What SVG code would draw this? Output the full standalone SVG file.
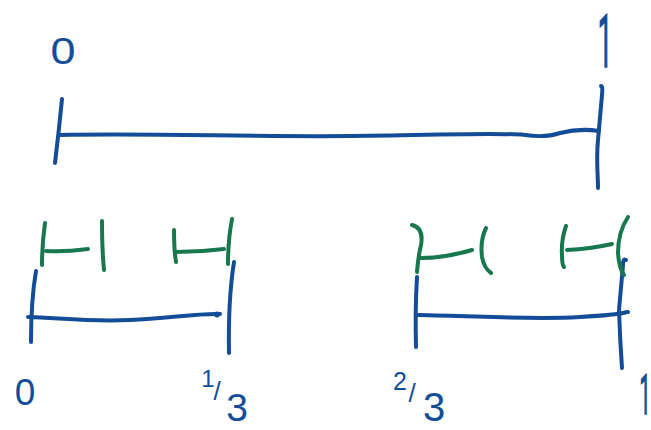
<svg xmlns="http://www.w3.org/2000/svg" width="651" height="430" viewBox="0 0 651 430">
<style>
.b{fill:none;stroke:#134d98;stroke-width:4;stroke-linecap:round;stroke-linejoin:round}
.g{fill:none;stroke:#17774d;stroke-width:4;stroke-linecap:round;stroke-linejoin:round}
.t{font-family:"Liberation Sans",Arial,sans-serif;fill:#134d98;text-anchor:middle}
.s{font-family:Roboto,"Liberation Sans",sans-serif;stroke:#134d98;stroke-width:1.5}
</style>
<rect width="651" height="430" fill="#fff"/>
<g id="interval-0-1">
<path class="b" d="M62,99 Q59,130 55,163"/>
<path class="b" d="M60,135 C150,133 250,137 350,136 S500,132 525,135 Q545,138 560,133 Q580,128 599,131"/>
<path class="b" d="M601,86 Q603,86 602,95 L598,140 C596,160 598,175 598,188"/>
<text class="t" font-size="36" transform="translate(63,64) scale(1.25,1)">0</text>
<text class="t s" font-size="74" transform="translate(605,67) scale(0.35,1)">1</text>
</g>
<g id="interval-0-third">
<path class="b" d="M36,271 Q31,300 31,342"/>
<path class="b" d="M28,317 C60,318 90,322 130,320 S200,313 220,314"/>
<circle cx="217" cy="314.5" r="3" fill="#134d98"/>
<path class="b" d="M234,262 Q228,300 229,353"/>
<text class="t" font-size="37" x="25" y="405">0</text>
<text class="t"><tspan font-size="24" x="208" y="387">1</tspan><tspan font-size="26" x="217" y="400">/</tspan><tspan font-size="39" x="237" y="421">3</tspan></text>
</g>
<g id="interval-two-thirds-1">
<path class="b" d="M417,277 Q415,310 416,347"/>
<path class="b" d="M418,315 C480,316 530,320 580,317 S620,313 628,312"/>
<path class="b" d="M626,260 Q623,258 623,265 L619,310 Q620,340 622,368"/>
<text class="t"><tspan font-size="25" x="400" y="390">2</tspan><tspan font-size="26" x="412" y="402">/</tspan><tspan font-size="40" x="434" y="421">3</tspan></text>
<text class="t s" font-size="56" transform="translate(645,414) scale(0.35,1)">1</text>
</g>
<g id="level2-left">
<path class="g" d="M45,223 Q42,245 42,265"/>
<path class="g" d="M46,251 Q65,252 88,249"/>
<path class="g" d="M102,221 Q102,250 104,270"/>
<path class="g" d="M174,230 Q174,250 176,262"/>
<path class="g" d="M176,252 Q200,252 224,249"/>
<path class="g" d="M232,219 Q228,240 228,264"/>
</g>
<g id="level2-right">
<path class="g" d="M412,225 Q424,228 421,245 Q418,258 417,272"/>
<path class="g" d="M421,258 Q445,258 472,250"/>
<path class="g" d="M486,228 Q480,240 482,257 Q484,268 491,273"/>
<path class="g" d="M566,226 Q561,240 562,255 Q562,265 564,267"/>
<path class="g" d="M567,250 Q590,249 612,244"/>
<path class="g" d="M628,217 Q618,232 618,253 Q619,268 624,275"/>
</g>
</svg>
